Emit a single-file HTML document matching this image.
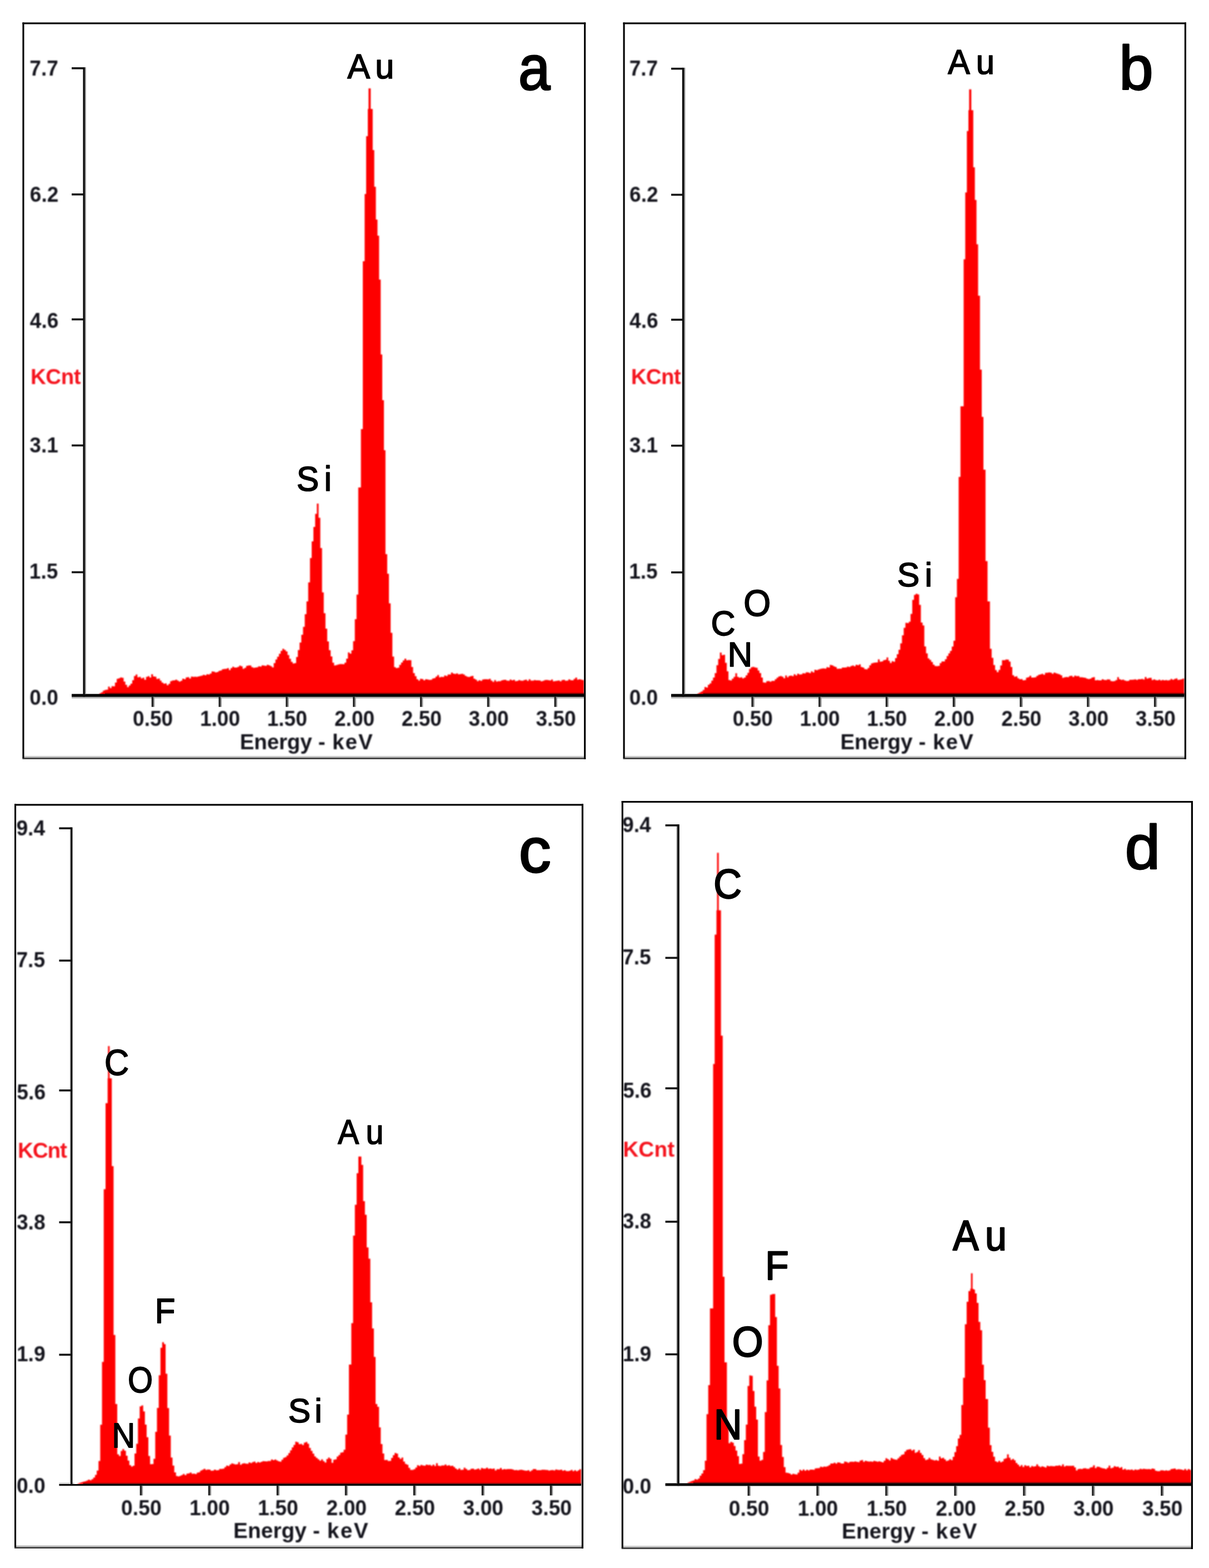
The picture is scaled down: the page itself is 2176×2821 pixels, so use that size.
<!DOCTYPE html>
<html lang="en">
<head>
<meta charset="utf-8">
<title>EDS spectra (a-d)</title>
<style>
html,body{margin:0;padding:0;background:#fff;}
body{width:2176px;height:2821px;overflow:hidden;}
svg{display:block;}
.spec{filter:blur(0.8px);}
.axes{filter:blur(0.4px);}
.lbl{filter:blur(0.9px);}
.ann{filter:blur(0.55px);}
text{font-family:"Liberation Sans",sans-serif;}
.tk{font-weight:700;fill:#14141c;}
.kc{font-weight:700;fill:#f5141e;}
.pk{fill:#000;stroke:#000;stroke-linejoin:round;}
.pl{fill:#000;font-size:120px;stroke:#000;stroke-width:3px;stroke-linejoin:round;}
</style>
</head>
<body>
<svg width="2176" height="2821" viewBox="0 0 2176 2821" role="img" aria-label="EDS spectra, panels a to d">
<defs><linearGradient id="dk" x1="0" y1="0" x2="0" y2="1"><stop offset="0" stop-color="#600" stop-opacity="0"/><stop offset="1" stop-color="#300" stop-opacity="0.95"/></linearGradient></defs>
<rect width="2176" height="2821" fill="#fff"/>
<g id="panel-a">
<g class="spec">
<polygon fill="#fe0000" points="179,1250 179,1247.3 182.1,1247.3 182.1,1245.4 185.2,1245.4 185.2,1242.5 188.3,1242.5 188.3,1241.2 191.4,1241.2 191.4,1240.8 194.5,1240.8 194.5,1235.2 197.6,1235.2 197.6,1238.1 200.7,1238.1 200.7,1234.4 203.8,1234.4 203.8,1234.7 206.9,1234.7 206.9,1228.1 210.1,1228.1 210.1,1221.2 213.2,1221.2 213.2,1220.3 216.3,1220.3 216.3,1218.8 219.4,1218.8 219.4,1219.6 222.5,1219.6 222.5,1226.3 225.6,1226.3 225.6,1232.1 228.7,1232.1 228.7,1236.2 231.8,1236.2 231.8,1233.3 234.9,1233.3 234.9,1230 238,1230 238,1223.7 241.1,1223.7 241.1,1216.3 244.2,1216.3 244.2,1213.6 247.3,1213.6 247.3,1218.6 250.4,1218.6 250.4,1217.8 253.5,1217.8 253.5,1220.6 256.6,1220.6 256.6,1219.3 259.7,1219.3 259.7,1222.9 262.8,1222.9 262.8,1217.7 265.9,1217.7 265.9,1216.5 269.1,1216.5 269.1,1218.9 272.2,1218.9 272.2,1213 275.3,1213 275.3,1217.1 278.4,1217.1 278.4,1217.4 281.5,1217.4 281.5,1221.4 284.6,1221.4 284.6,1220.8 287.7,1220.8 287.7,1224.5 290.8,1224.5 290.8,1228 293.9,1228 293.9,1230 297,1230 297,1229.4 300.1,1229.4 300.1,1232.8 303.2,1232.8 303.2,1230.2 306.3,1230.2 306.3,1225.6 309.4,1225.6 309.4,1224.2 312.5,1224.2 312.5,1224 315.6,1224 315.6,1222.7 318.7,1222.7 318.7,1224.5 321.8,1224.5 321.8,1226.2 325,1226.2 325,1224.8 328.1,1224.8 328.1,1221 331.2,1221 331.2,1222 334.3,1222 334.3,1218.7 337.4,1218.7 337.4,1218.3 340.5,1218.3 340.5,1220.8 343.6,1220.8 343.6,1217.3 346.7,1217.3 346.7,1217.7 349.8,1217.7 349.8,1217.6 352.9,1217.6 352.9,1217.7 356,1217.7 356,1217.1 359.1,1217.1 359.1,1216.2 362.2,1216.2 362.2,1215.5 365.3,1215.5 365.3,1213.9 368.4,1213.9 368.4,1215.1 371.5,1215.1 371.5,1213 374.6,1213 374.6,1213.5 377.7,1213.5 377.7,1211.8 380.8,1211.8 380.8,1208.1 384,1208.1 384,1208.5 387.1,1208.5 387.1,1209.7 390.2,1209.7 390.2,1208.9 393.3,1208.9 393.3,1206.9 396.4,1206.9 396.4,1206.2 399.5,1206.2 399.5,1204 402.6,1204 402.6,1203.5 405.7,1203.5 405.7,1203.2 408.8,1203.2 408.8,1202.1 411.9,1202.1 411.9,1205.5 415,1205.5 415,1202.1 418.1,1202.1 418.1,1199.4 421.2,1199.4 421.2,1201 424.3,1201 424.3,1201.1 427.4,1201.1 427.4,1199.8 430.5,1199.8 430.5,1197.4 433.6,1197.4 433.6,1198.8 436.7,1198.8 436.7,1203.2 439.8,1203.2 439.8,1201.5 443,1201.5 443,1198.1 446.1,1198.1 446.1,1197.3 449.2,1197.3 449.2,1197.2 452.3,1197.2 452.3,1200.3 455.4,1200.3 455.4,1201.4 458.5,1201.4 458.5,1201.1 461.6,1201.1 461.6,1200.4 464.7,1200.4 464.7,1198.8 467.8,1198.8 467.8,1199.2 470.9,1199.2 470.9,1196.9 474,1196.9 474,1197.6 477.1,1197.6 477.1,1198 480.2,1198 480.2,1196 483.3,1196 483.3,1196.9 486.4,1196.9 486.4,1198.5 489.5,1198.5 489.5,1200.8 492.6,1200.8 492.6,1193 495.7,1193 495.7,1186.6 498.8,1186.6 498.8,1181.4 502,1181.4 502,1176.2 505.1,1176.2 505.1,1171.1 508.2,1171.1 508.2,1167.2 511.3,1167.2 511.3,1169.2 514.4,1169.2 514.4,1171.9 517.5,1171.9 517.5,1178.6 520.6,1178.6 520.6,1185.3 523.7,1185.3 523.7,1190.7 526.8,1190.7 526.8,1193.8 529.9,1193.8 529.9,1192.9 533,1192.9 533,1181.9 536.1,1181.9 536.1,1169.4 539.2,1169.4 539.2,1156.1 542.3,1156.1 542.3,1142.1 545.4,1142.1 545.4,1127.7 548.5,1127.7 548.5,1105.1 551.6,1105.1 551.6,1081.9 554.7,1081.9 554.7,1047.7 557.9,1047.7 557.9,1004 561,1004 561,973.9 564.1,973.9 564.1,948.1 567.2,948.1 567.2,924.6 570.3,924.6 570.3,906.1 573.4,906.1 573.4,931.4 576.5,931.4 576.5,985.9 579.6,985.9 579.6,1065.8 582.7,1065.8 582.7,1103.3 585.8,1103.3 585.8,1131.1 588.9,1131.1 588.9,1153.9 592,1153.9 592,1169.7 595.1,1169.7 595.1,1181 598.2,1181 598.2,1192.2 601.3,1192.2 601.3,1197.3 604.4,1197.3 604.4,1196.4 607.5,1196.4 607.5,1195.6 610.6,1195.6 610.6,1194.8 613.7,1194.8 613.7,1194.8 616.9,1194.8 616.9,1195.1 620,1195.1 620,1192.3 623.1,1192.3 623.1,1185.1 626.2,1185.1 626.2,1173.7 629.3,1173.7 629.3,1176.1 632.4,1176.1 632.4,1170 635.5,1170 635.5,1153.5 638.6,1153.5 638.6,1114.1 641.7,1114.1 641.7,1069.8 644.8,1069.8 644.8,1058 644.8,877 649.6,877 649.6,772 653,772 653,470 656.3,470 656.3,349 659,349 659,245 662,245 662,196 663.3,196 663.3,159 667.2,159 667.2,196 670.8,196 670.8,270 673.6,270 673.6,336 676.5,336 676.5,395 679.4,395 679.4,424 682.3,424 682.3,503 685.2,503 685.2,637.7 688,637.7 688,720 691,720 691,810 693.8,810 693.8,997 693.8,997 696.9,997 696.9,1032.3 700,1032.3 700,1085.5 703.1,1085.5 703.1,1138.4 706.2,1138.4 706.2,1181.2 709.3,1181.2 709.3,1200.3 712.4,1200.3 712.4,1202 715.5,1202 715.5,1201.2 718.6,1201.2 718.6,1196.3 721.8,1196.3 721.8,1192.1 724.9,1192.1 724.9,1188.2 728,1188.2 728,1184.9 731.1,1184.9 731.1,1187.9 734.2,1187.9 734.2,1187.5 737.3,1187.5 737.3,1187.8 740.4,1187.8 740.4,1200 743.5,1200 743.5,1211 746.6,1211 746.6,1216.5 749.7,1216.5 749.7,1222.1 752.8,1222.1 752.8,1224.6 755.9,1224.6 755.9,1221.2 759,1221.2 759,1221.7 762.1,1221.7 762.1,1223.9 765.2,1223.9 765.2,1221.9 768.3,1221.9 768.3,1222.4 771.5,1222.4 771.5,1223.3 774.6,1223.3 774.6,1222.9 777.7,1222.9 777.7,1220.8 780.8,1220.8 780.8,1220.1 783.9,1220.1 783.9,1217.2 787,1217.2 787,1214.5 790.1,1214.5 790.1,1218.5 793.2,1218.5 793.2,1217.8 796.3,1217.8 796.3,1218.1 799.4,1218.1 799.4,1215.3 802.5,1215.3 802.5,1216.3 805.6,1216.3 805.6,1213.4 808.7,1213.4 808.7,1213.5 811.8,1213.5 811.8,1210.1 814.9,1210.1 814.9,1212.1 818,1212.1 818,1212.4 821.1,1212.4 821.1,1211.5 824.3,1211.5 824.3,1213.3 827.4,1213.3 827.4,1212.8 830.5,1212.8 830.5,1212.3 833.6,1212.3 833.6,1213.4 836.7,1213.4 836.7,1216 839.8,1216 839.8,1217.6 842.9,1217.6 842.9,1218 846,1218 846,1216.7 849.1,1216.7 849.1,1216 852.2,1216 852.2,1221 855.3,1221 855.3,1222.8 858.4,1222.8 858.4,1225.5 861.5,1225.5 861.5,1223.7 864.6,1223.7 864.6,1224.9 867.7,1224.9 867.7,1222.6 870.8,1222.6 870.8,1221.9 874,1221.9 874,1222 877.1,1222 877.1,1222.2 880.2,1222.2 880.2,1221.3 883.3,1221.3 883.3,1224.4 886.4,1224.4 886.4,1226.7 889.5,1226.7 889.5,1223.4 892.6,1223.4 892.6,1226.2 895.7,1226.2 895.7,1225.6 898.8,1225.6 898.8,1225.6 901.9,1225.6 901.9,1224 905,1224 905,1223.3 908.1,1223.3 908.1,1223.1 911.2,1223.1 911.2,1224.6 914.3,1224.6 914.3,1224.7 917.4,1224.7 917.4,1222.4 920.5,1222.4 920.5,1223.9 923.7,1223.9 923.7,1222.9 926.8,1222.9 926.8,1225.5 929.9,1225.5 929.9,1225.1 933,1225.1 933,1223.6 936.1,1223.6 936.1,1224.5 939.2,1224.5 939.2,1224.8 942.3,1224.8 942.3,1223.4 945.4,1223.4 945.4,1222.7 948.5,1222.7 948.5,1224.9 951.6,1224.9 951.6,1221.9 954.7,1221.9 954.7,1224.4 957.8,1224.4 957.8,1224.4 960.9,1224.4 960.9,1223.6 964,1223.6 964,1224.1 967.1,1224.1 967.1,1224.1 970.2,1224.1 970.2,1224.3 973.3,1224.3 973.3,1225.8 976.5,1225.8 976.5,1224.7 979.6,1224.7 979.6,1223.6 982.7,1223.6 982.7,1223.3 985.8,1223.3 985.8,1223.8 988.9,1223.8 988.9,1224.3 992,1224.3 992,1222.6 995.1,1222.6 995.1,1225.8 998.2,1225.8 998.2,1225.3 1001.3,1225.3 1001.3,1224.7 1004.4,1224.7 1004.4,1224.3 1007.5,1224.3 1007.5,1225.7 1010.6,1225.7 1010.6,1223.4 1013.7,1223.4 1013.7,1223.1 1016.8,1223.1 1016.8,1224.7 1019.9,1224.7 1019.9,1224.6 1023,1224.6 1023,1222.2 1026.2,1222.2 1026.2,1223.8 1029.3,1223.8 1029.3,1224 1032.4,1224 1032.4,1221.5 1035.5,1221.5 1035.5,1219 1038.6,1219 1038.6,1222.7 1041.7,1222.7 1041.7,1222.1 1044.8,1222.1 1044.8,1222.7 1047.9,1222.7 1047.9,1223.4 1051,1223.4 1051,1250"/>
</g>
<g class="axes">
<rect x="129" y="1253.2" width="922" height="3.4" fill="#b4b4b4"/>
<rect x="129" y="1248.5" width="922" height="5.2" fill="#000"/>
<rect x="189" y="1245.3" width="862" height="3.4" fill="url(#dk)"/>
<rect x="152.3" y="121" width="2.4" height="1127.5" fill="#8c8c8c"/>
<rect x="149.4" y="121" width="3.4" height="1132.7" fill="#0c0c0c"/>
<rect x="129" y="121" width="21.4" height="3.6" fill="#141414"/>
<rect x="129" y="348" width="21.4" height="3.6" fill="#141414"/>
<rect x="129" y="572.8" width="21.4" height="3.6" fill="#141414"/>
<rect x="129" y="799.6" width="21.4" height="3.6" fill="#141414"/>
<rect x="129" y="1027.7" width="21.4" height="3.6" fill="#141414"/>
<rect x="276" y="1253.7" width="2.2" height="18.1" fill="#9a9a9a"/>
<rect x="272.7" y="1253.7" width="3.4" height="18.1" fill="#262626"/>
<rect x="396.8" y="1253.7" width="2.2" height="18.1" fill="#9a9a9a"/>
<rect x="393.5" y="1253.7" width="3.4" height="18.1" fill="#262626"/>
<rect x="517.6" y="1253.7" width="2.2" height="18.1" fill="#9a9a9a"/>
<rect x="514.3" y="1253.7" width="3.4" height="18.1" fill="#262626"/>
<rect x="638.4" y="1253.7" width="2.2" height="18.1" fill="#9a9a9a"/>
<rect x="635.1" y="1253.7" width="3.4" height="18.1" fill="#262626"/>
<rect x="759.2" y="1253.7" width="2.2" height="18.1" fill="#9a9a9a"/>
<rect x="755.9" y="1253.7" width="3.4" height="18.1" fill="#262626"/>
<rect x="880" y="1253.7" width="2.2" height="18.1" fill="#9a9a9a"/>
<rect x="876.7" y="1253.7" width="3.4" height="18.1" fill="#262626"/>
<rect x="1000.8" y="1253.7" width="2.2" height="18.1" fill="#9a9a9a"/>
<rect x="997.5" y="1253.7" width="3.4" height="18.1" fill="#262626"/>
</g>
<g class="lbl">
<text class="tk" font-size="38.6" x="53.33" y="135.8" textLength="51.51" lengthAdjust="spacingAndGlyphs">7.7</text>
<text class="tk" font-size="38.6" x="53.81" y="363.1" textLength="51.51" lengthAdjust="spacingAndGlyphs">6.2</text>
<text class="tk" font-size="38.6" x="53.81" y="590" textLength="51.51" lengthAdjust="spacingAndGlyphs">4.6</text>
<text class="tk" font-size="38.6" x="53.33" y="813.7" textLength="51.51" lengthAdjust="spacingAndGlyphs">3.1</text>
<text class="tk" font-size="38.6" x="52.85" y="1040.8" textLength="51.51" lengthAdjust="spacingAndGlyphs">1.5</text>
<text class="tk" font-size="38.6" x="53.33" y="1268.1" textLength="51.51" lengthAdjust="spacingAndGlyphs">0.0</text>
<text class="tk" font-size="38.6" x="239.12" y="1306.3" textLength="72.12" lengthAdjust="spacingAndGlyphs">0.50</text>
<text class="tk" font-size="38.6" x="359.92" y="1306.3" textLength="72.12" lengthAdjust="spacingAndGlyphs">1.00</text>
<text class="tk" font-size="38.6" x="480.72" y="1306.3" textLength="72.12" lengthAdjust="spacingAndGlyphs">1.50</text>
<text class="tk" font-size="38.6" x="602" y="1306.3" textLength="72.12" lengthAdjust="spacingAndGlyphs">2.00</text>
<text class="tk" font-size="38.6" x="722.8" y="1306.3" textLength="72.12" lengthAdjust="spacingAndGlyphs">2.50</text>
<text class="tk" font-size="38.6" x="843.6" y="1306.3" textLength="72.12" lengthAdjust="spacingAndGlyphs">3.00</text>
<text class="tk" font-size="38.6" x="964.4" y="1306.3" textLength="72.12" lengthAdjust="spacingAndGlyphs">3.50</text>
<text class="tk" font-size="38.6" y="1347.5"><tspan x="431.8" letter-spacing="-0.2">Energy</tspan><tspan x="561.98"> - </tspan><tspan x="598" letter-spacing="2">keV</tspan></text>
<text class="kc" font-size="38.6" x="55" y="690.5" letter-spacing="-0.5">KCnt</text>
</g>
<g class="ann">
<text class="pk" font-size="65" stroke-width="1.8" transform="matrix(0.9422 0 0 0.9617 625.24 141.44)" letter-spacing="9.82">Au</text>
<text class="pk" font-size="65" stroke-width="1.8" transform="matrix(0.9300 0 0 0.9653 533.64 883.23)" letter-spacing="10.15">Si</text>
<text class="pl" transform="matrix(0.8594 0 0 0.9382 932.96 161.32)" x="0" y="0">a</text>
</g>
<rect x="43.4" y="1360" width="1007.8" height="3" fill="#c8c8c8"/>
<rect x="40.4" y="1363" width="1013.8" height="3" fill="#484848"/>
<rect x="40.4" y="40.4" width="1013.8" height="3.1" fill="#000"/>
<rect x="40.4" y="40.4" width="3.1" height="1323.6" fill="#000"/>
<rect x="1051" y="40.4" width="3.2" height="1325.6" fill="#000"/>
</g>
<g id="panel-b">
<g class="spec">
<polygon fill="#fe0000" points="1255.5,1250 1255.5,1247.6 1258.6,1247.6 1258.6,1245.8 1261.7,1245.8 1261.7,1244 1264.8,1244 1264.8,1241.3 1267.9,1241.3 1267.9,1236.1 1271,1236.1 1271,1237.1 1274,1237.1 1274,1232 1277.1,1232 1277.1,1229.6 1280.2,1229.6 1280.2,1224.4 1283.3,1224.4 1283.3,1219.1 1286.4,1219.1 1286.4,1210.9 1289.5,1210.9 1289.5,1196.7 1292.6,1196.7 1292.6,1185.5 1295.7,1185.5 1295.7,1174.1 1298.8,1174.1 1298.8,1178.8 1301.9,1178.8 1301.9,1178 1305,1178 1305,1192.4 1308.1,1192.4 1308.1,1207.7 1311.1,1207.7 1311.1,1223.4 1314.2,1223.4 1314.2,1224.2 1317.3,1224.2 1317.3,1221 1320.4,1221 1320.4,1217.8 1323.5,1217.8 1323.5,1211.3 1326.6,1211.3 1326.6,1217.8 1329.7,1217.8 1329.7,1219.2 1332.8,1219.2 1332.8,1218.5 1335.9,1218.5 1335.9,1220.4 1339,1220.4 1339,1219.1 1342.1,1219.1 1342.1,1214.9 1345.2,1214.9 1345.2,1210.6 1348.2,1210.6 1348.2,1203.6 1351.3,1203.6 1351.3,1200.6 1354.4,1200.6 1354.4,1199.7 1357.5,1199.7 1357.5,1200.8 1360.6,1200.8 1360.6,1201.6 1363.7,1201.6 1363.7,1206.3 1366.8,1206.3 1366.8,1210.9 1369.9,1210.9 1369.9,1218.9 1373,1218.9 1373,1227.7 1376.1,1227.7 1376.1,1228.3 1379.2,1228.3 1379.2,1225.5 1382.2,1225.5 1382.2,1225.2 1385.3,1225.2 1385.3,1226.6 1388.4,1226.6 1388.4,1224.9 1391.5,1224.9 1391.5,1225 1394.6,1225 1394.6,1222 1397.7,1222 1397.7,1219.2 1400.8,1219.2 1400.8,1217 1403.9,1217 1403.9,1216.3 1407,1216.3 1407,1217.6 1410.1,1217.6 1410.1,1220.3 1413.2,1220.3 1413.2,1215.3 1416.3,1215.3 1416.3,1218.5 1419.3,1218.5 1419.3,1216 1422.4,1216 1422.4,1215.5 1425.5,1215.5 1425.5,1216.5 1428.6,1216.5 1428.6,1213 1431.7,1213 1431.7,1215.3 1434.8,1215.3 1434.8,1212.1 1437.9,1212.1 1437.9,1213.5 1441,1213.5 1441,1213.2 1444.1,1213.2 1444.1,1211.2 1447.2,1211.2 1447.2,1211.4 1450.3,1211.4 1450.3,1209.5 1453.4,1209.5 1453.4,1209.8 1456.4,1209.8 1456.4,1211 1459.5,1211 1459.5,1207.7 1462.6,1207.7 1462.6,1209.7 1465.7,1209.7 1465.7,1205.1 1468.8,1205.1 1468.8,1205.7 1471.9,1205.7 1471.9,1204.5 1475,1204.5 1475,1203.6 1478.1,1203.6 1478.1,1202.8 1481.2,1202.8 1481.2,1202.4 1484.3,1202.4 1484.3,1203 1487.4,1203 1487.4,1200.3 1490.5,1200.3 1490.5,1200.9 1493.5,1200.9 1493.5,1196.3 1496.6,1196.3 1496.6,1197 1499.7,1197 1499.7,1198.8 1502.8,1198.8 1502.8,1200.1 1505.9,1200.1 1505.9,1203.3 1509,1203.3 1509,1203 1512.1,1203 1512.1,1203 1515.2,1203 1515.2,1200.9 1518.3,1200.9 1518.3,1201.1 1521.4,1201.1 1521.4,1200.7 1524.5,1200.7 1524.5,1199.2 1527.5,1199.2 1527.5,1200 1530.6,1200 1530.6,1198.2 1533.7,1198.2 1533.7,1197.3 1536.8,1197.3 1536.8,1198.7 1539.9,1198.7 1539.9,1196 1543,1196 1543,1196.8 1546.1,1196.8 1546.1,1195.3 1549.2,1195.3 1549.2,1199.9 1552.3,1199.9 1552.3,1200.9 1555.4,1200.9 1555.4,1203.8 1558.5,1203.8 1558.5,1204.2 1561.6,1204.2 1561.6,1201.8 1564.6,1201.8 1564.6,1197.1 1567.7,1197.1 1567.7,1193.4 1570.8,1193.4 1570.8,1192.6 1573.9,1192.6 1573.9,1192 1577,1192 1577,1191.8 1580.1,1191.8 1580.1,1186.3 1583.2,1186.3 1583.2,1190.5 1586.3,1190.5 1586.3,1190 1589.4,1190 1589.4,1187.8 1592.5,1187.8 1592.5,1186.9 1595.6,1186.9 1595.6,1182.8 1598.7,1182.8 1598.7,1188.8 1601.7,1188.8 1601.7,1192.7 1604.8,1192.7 1604.8,1189.6 1607.9,1189.6 1607.9,1190.5 1611,1190.5 1611,1184.1 1614.1,1184.1 1614.1,1176.9 1617.2,1176.9 1617.2,1169.1 1620.3,1169.1 1620.3,1157.4 1623.4,1157.4 1623.4,1143 1626.5,1143 1626.5,1129.4 1629.6,1129.4 1629.6,1120.6 1632.7,1120.6 1632.7,1120.9 1635.7,1120.9 1635.7,1118.4 1638.8,1118.4 1638.8,1104.4 1641.9,1104.4 1641.9,1079.3 1645,1079.3 1645,1070.3 1648.1,1070.3 1648.1,1068.3 1651.2,1068.3 1651.2,1069.4 1654.3,1069.4 1654.3,1088.3 1657.4,1088.3 1657.4,1120 1660.5,1120 1660.5,1125.3 1663.6,1125.3 1663.6,1163 1666.7,1163 1666.7,1175.6 1669.8,1175.6 1669.8,1184.6 1672.8,1184.6 1672.8,1187.2 1675.9,1187.2 1675.9,1191 1679,1191 1679,1195.8 1682.1,1195.8 1682.1,1198.3 1685.2,1198.3 1685.2,1198.4 1688.3,1198.4 1688.3,1198 1691.4,1198 1691.4,1192.9 1694.5,1192.9 1694.5,1189.9 1697.6,1189.9 1697.6,1189.9 1700.7,1189.9 1700.7,1186 1703.8,1186 1703.8,1180.2 1706.9,1180.2 1706.9,1175.6 1709.9,1175.6 1709.9,1171 1713,1171 1713,1163.3 1716.1,1163.3 1716.1,1152.7 1719.2,1152.7 1719.2,1074.5 1722.3,1074.5 1722.3,1041.6 1725.4,1041.6 1725.4,1041.6 1725.4,858 1728.7,858 1728.7,731 1734.4,731 1734.4,466.5 1737.3,466.5 1737.3,346.3 1740.2,346.3 1740.2,235.8 1743,235.8 1743,198.3 1744.3,198.3 1744.3,160.8 1748.2,160.8 1748.2,198.3 1751.7,198.3 1751.7,301 1754.6,301 1754.6,359.8 1757.5,359.8 1757.5,439.6 1760.4,439.6 1760.4,532 1763.8,532 1763.8,665 1767,665 1767,750 1770,750 1770,845 1773.8,845 1773.8,1009.6 1777.4,1009.6 1777.4,1082 1781.7,1082 1781.7,1159 1781.7,1167.2 1784.8,1167.2 1784.8,1183.5 1787.9,1183.5 1787.9,1196.6 1791,1196.6 1791,1205.5 1794.1,1205.5 1794.1,1209.2 1797.2,1209.2 1797.2,1205.3 1800.3,1205.3 1800.3,1197.2 1803.4,1197.2 1803.4,1187.7 1806.5,1187.7 1806.5,1187.8 1809.6,1187.8 1809.6,1186.4 1812.7,1186.4 1812.7,1186.8 1815.8,1186.8 1815.8,1190.3 1818.9,1190.3 1818.9,1200.1 1822,1200.1 1822,1214.8 1825.1,1214.8 1825.1,1217.6 1828.1,1217.6 1828.1,1216.7 1831.2,1216.7 1831.2,1220.2 1834.3,1220.2 1834.3,1222 1837.4,1222 1837.4,1221.8 1840.5,1221.8 1840.5,1224.1 1843.6,1224.1 1843.6,1223.4 1846.7,1223.4 1846.7,1219.2 1849.8,1219.2 1849.8,1218.2 1852.9,1218.2 1852.9,1215.7 1856,1215.7 1856,1218.9 1859.1,1218.9 1859.1,1218.9 1862.2,1218.9 1862.2,1218.6 1865.3,1218.6 1865.3,1216 1868.4,1216 1868.4,1214 1871.5,1214 1871.5,1213.3 1874.6,1213.3 1874.6,1212.2 1877.7,1212.2 1877.7,1214.1 1880.8,1214.1 1880.8,1210.6 1883.9,1210.6 1883.9,1210.2 1887,1210.2 1887,1209.7 1890.1,1209.7 1890.1,1210.3 1893.2,1210.3 1893.2,1212.2 1896.3,1212.2 1896.3,1209.9 1899.4,1209.9 1899.4,1211.2 1902.5,1211.2 1902.5,1212.2 1905.6,1212.2 1905.6,1213.2 1908.7,1213.2 1908.7,1214.9 1911.8,1214.9 1911.8,1219.6 1914.8,1219.6 1914.8,1218.4 1917.9,1218.4 1917.9,1217.9 1921,1217.9 1921,1218.3 1924.1,1218.3 1924.1,1216.3 1927.2,1216.3 1927.2,1215.8 1930.3,1215.8 1930.3,1218.1 1933.4,1218.1 1933.4,1215.6 1936.5,1215.6 1936.5,1216.6 1939.6,1216.6 1939.6,1216.3 1942.7,1216.3 1942.7,1218.6 1945.8,1218.6 1945.8,1218.5 1948.9,1218.5 1948.9,1219 1952,1219 1952,1219.4 1955.1,1219.4 1955.1,1221.1 1958.2,1221.1 1958.2,1221.8 1961.3,1221.8 1961.3,1221 1964.4,1221 1964.4,1218.9 1967.5,1218.9 1967.5,1218.3 1970.6,1218.3 1970.6,1224.1 1973.7,1224.1 1973.7,1223.5 1976.8,1223.5 1976.8,1223.9 1979.9,1223.9 1979.9,1224.1 1983,1224.1 1983,1222 1986.1,1222 1986.1,1223.2 1989.2,1223.2 1989.2,1223.6 1992.3,1223.6 1992.3,1222.2 1995.4,1222.2 1995.4,1222.5 1998.5,1222.5 1998.5,1225.3 2001.5,1225.3 2001.5,1225.7 2004.6,1225.7 2004.6,1225.2 2007.7,1225.2 2007.7,1223.6 2010.8,1223.6 2010.8,1218.3 2013.9,1218.3 2013.9,1222.1 2017,1222.1 2017,1223.2 2020.1,1223.2 2020.1,1222.7 2023.2,1222.7 2023.2,1224.2 2026.3,1224.2 2026.3,1225.2 2029.4,1225.2 2029.4,1225 2032.5,1225 2032.5,1223 2035.6,1223 2035.6,1223 2038.7,1223 2038.7,1222.7 2041.8,1222.7 2041.8,1222.2 2044.9,1222.2 2044.9,1223.3 2048,1223.3 2048,1222.1 2051.1,1222.1 2051.1,1222 2054.2,1222 2054.2,1221.4 2057.3,1221.4 2057.3,1222.6 2060.4,1222.6 2060.4,1217.9 2063.5,1217.9 2063.5,1221.1 2066.6,1221.1 2066.6,1219.7 2069.7,1219.7 2069.7,1219.4 2072.8,1219.4 2072.8,1223.6 2075.9,1223.6 2075.9,1222.2 2079,1222.2 2079,1223.4 2082.1,1223.4 2082.1,1223.9 2085.2,1223.9 2085.2,1222.8 2088.2,1222.8 2088.2,1224.3 2091.3,1224.3 2091.3,1223.3 2094.4,1223.3 2094.4,1224 2097.5,1224 2097.5,1223.4 2100.6,1223.4 2100.6,1224.3 2103.7,1224.3 2103.7,1223.5 2106.8,1223.5 2106.8,1221.6 2109.9,1221.6 2109.9,1223 2113,1223 2113,1221.4 2116.1,1221.4 2116.1,1220.5 2119.2,1220.5 2119.2,1223.2 2122.3,1223.2 2122.3,1222.7 2125.4,1222.7 2125.4,1222.1 2128.5,1222.1 2128.5,1220.8 2131.6,1220.8 2131.6,1250"/>
</g>
<g class="axes">
<rect x="1208" y="1253.2" width="923.6" height="3.4" fill="#b4b4b4"/>
<rect x="1208" y="1248.5" width="923.6" height="5.2" fill="#000"/>
<rect x="1265.5" y="1245.3" width="866.1" height="3.4" fill="url(#dk)"/>
<rect x="1230.7" y="121.8" width="2.6" height="1126.7" fill="#8c8c8c"/>
<rect x="1227.8" y="121.8" width="3.4" height="1131.9" fill="#0c0c0c"/>
<rect x="1208" y="121.8" width="20.8" height="3.6" fill="#141414"/>
<rect x="1208" y="348.6" width="20.8" height="3.6" fill="#141414"/>
<rect x="1208" y="573.4" width="20.8" height="3.6" fill="#141414"/>
<rect x="1208" y="800" width="20.8" height="3.6" fill="#141414"/>
<rect x="1208" y="1028" width="20.8" height="3.6" fill="#141414"/>
<rect x="1355.8" y="1253.7" width="2.2" height="18.1" fill="#9a9a9a"/>
<rect x="1352.4" y="1253.7" width="3.4" height="18.1" fill="#262626"/>
<rect x="1476.5" y="1253.7" width="2.2" height="18.1" fill="#9a9a9a"/>
<rect x="1473.2" y="1253.7" width="3.4" height="18.1" fill="#262626"/>
<rect x="1597.2" y="1253.7" width="2.2" height="18.1" fill="#9a9a9a"/>
<rect x="1593.9" y="1253.7" width="3.4" height="18.1" fill="#262626"/>
<rect x="1718" y="1253.7" width="2.2" height="18.1" fill="#9a9a9a"/>
<rect x="1714.7" y="1253.7" width="3.4" height="18.1" fill="#262626"/>
<rect x="1838.8" y="1253.7" width="2.2" height="18.1" fill="#9a9a9a"/>
<rect x="1835.4" y="1253.7" width="3.4" height="18.1" fill="#262626"/>
<rect x="1959.5" y="1253.7" width="2.2" height="18.1" fill="#9a9a9a"/>
<rect x="1956.2" y="1253.7" width="3.4" height="18.1" fill="#262626"/>
<rect x="2080.2" y="1253.7" width="2.2" height="18.1" fill="#9a9a9a"/>
<rect x="2076.9" y="1253.7" width="3.4" height="18.1" fill="#262626"/>
</g>
<g class="lbl">
<text class="tk" font-size="38.6" x="1132.63" y="135.8" textLength="51.51" lengthAdjust="spacingAndGlyphs">7.7</text>
<text class="tk" font-size="38.6" x="1133.11" y="363.1" textLength="51.51" lengthAdjust="spacingAndGlyphs">6.2</text>
<text class="tk" font-size="38.6" x="1133.11" y="590" textLength="51.51" lengthAdjust="spacingAndGlyphs">4.6</text>
<text class="tk" font-size="38.6" x="1132.63" y="813.7" textLength="51.51" lengthAdjust="spacingAndGlyphs">3.1</text>
<text class="tk" font-size="38.6" x="1132.15" y="1040.8" textLength="51.51" lengthAdjust="spacingAndGlyphs">1.5</text>
<text class="tk" font-size="38.6" x="1132.63" y="1268.1" textLength="51.51" lengthAdjust="spacingAndGlyphs">0.0</text>
<text class="tk" font-size="38.6" x="1318.87" y="1306.3" textLength="72.12" lengthAdjust="spacingAndGlyphs">0.50</text>
<text class="tk" font-size="38.6" x="1439.62" y="1306.3" textLength="72.12" lengthAdjust="spacingAndGlyphs">1.00</text>
<text class="tk" font-size="38.6" x="1560.37" y="1306.3" textLength="72.12" lengthAdjust="spacingAndGlyphs">1.50</text>
<text class="tk" font-size="38.6" x="1681.6" y="1306.3" textLength="72.12" lengthAdjust="spacingAndGlyphs">2.00</text>
<text class="tk" font-size="38.6" x="1802.35" y="1306.3" textLength="72.12" lengthAdjust="spacingAndGlyphs">2.50</text>
<text class="tk" font-size="38.6" x="1923.1" y="1306.3" textLength="72.12" lengthAdjust="spacingAndGlyphs">3.00</text>
<text class="tk" font-size="38.6" x="2043.85" y="1306.3" textLength="72.12" lengthAdjust="spacingAndGlyphs">3.50</text>
<text class="tk" font-size="38.6" y="1347.5"><tspan x="1512.4" letter-spacing="-0.16">Energy</tspan><tspan x="1642.81"> - </tspan><tspan x="1678.88" letter-spacing="2.06">keV</tspan></text>
<text class="kc" font-size="38.6" x="1135.7" y="690.5" letter-spacing="-0.73">KCnt</text>
</g>
<g class="ann">
<text class="pk" font-size="65" stroke-width="1.8" transform="matrix(0.9178 0 0 0.9596 1706.02 132.74)" letter-spacing="12.02">Au</text>
<text class="pk" font-size="65" stroke-width="1.8" transform="matrix(0.9300 0 0 0.9327 1614.74 1055.27)" letter-spacing="10.26">Si</text>
<text class="pk" font-size="65" stroke-width="1.8" transform="matrix(0.9372 0 0 0.9723 1279.43 1143.43)">C</text>
<text class="pk" font-size="65" stroke-width="1.8" transform="matrix(0.9696 0 0 1.0213 1338.36 1107.88)">O</text>
<text class="pk" font-size="65" stroke-width="1.8" transform="matrix(0.9538 0 0 0.9596 1309.48 1199.24)">N</text>
<text class="pl" transform="matrix(0.9193 0 0 0.9286 2014.28 160.51)" x="0" y="0">b</text>
</g>
<rect x="1124.5" y="1360" width="1007.5" height="3" fill="#c8c8c8"/>
<rect x="1121.5" y="1363" width="1013.5" height="3" fill="#484848"/>
<rect x="1121.5" y="40.4" width="1013.5" height="3.1" fill="#000"/>
<rect x="1121.5" y="40.4" width="3.1" height="1323.6" fill="#000"/>
<rect x="2131.8" y="40.4" width="3.2" height="1325.6" fill="#000"/>
</g>
<g id="panel-c">
<g class="spec">
<polygon fill="#fe0000" points="139.5,2670.5 139.5,2668.9 142.6,2668.9 142.6,2667.8 145.8,2667.8 145.8,2666.7 148.9,2666.7 148.9,2665.8 152.1,2665.8 152.1,2664.9 155.2,2664.9 155.2,2663.7 158.4,2663.7 158.4,2662.1 161.5,2662.1 161.5,2663.3 164.7,2663.3 164.7,2661.2 167.8,2661.2 167.8,2658.2 171,2658.2 171,2653.4 174.1,2653.4 174.1,2645.8 177.3,2645.8 177.3,2628.4 180.4,2628.4 180.4,2563.2 183.6,2563.2 183.6,2450.2 186.7,2450.2 186.7,2449 186.7,2139.6 190,2139.6 190,1984.7 193.7,1984.7 193.7,1940 194.4,1940 194.4,1882 197.3,1882 197.3,1940 201.2,1940 201.2,2098 204.4,2098 204.4,2401.8 207.6,2401.8 207.6,2526 211,2526 211,2613 211,2616.4 214.1,2616.4 214.1,2619.6 217.2,2619.6 217.2,2610.4 220.3,2610.4 220.3,2607.1 223.4,2607.1 223.4,2609.9 226.6,2609.9 226.6,2619.1 229.7,2619.1 229.7,2627.7 232.8,2627.7 232.8,2636 235.9,2636 235.9,2638.5 239,2638.5 239,2636.9 242.1,2636.9 242.1,2615.1 245.2,2615.1 245.2,2597.6 248.3,2597.6 248.3,2552.1 251.4,2552.1 251.4,2530.2 254.5,2530.2 254.5,2528.5 257.7,2528.5 257.7,2539.2 260.8,2539.2 260.8,2563.1 263.9,2563.1 263.9,2585.7 267,2585.7 267,2619.6 270.1,2619.6 270.1,2634.2 273.2,2634.2 273.2,2633.9 276.3,2633.9 276.3,2624.4 279.4,2624.4 279.4,2576.1 282.5,2576.1 282.5,2533.1 285.7,2533.1 285.7,2474.2 288.8,2474.2 288.8,2424.7 291.9,2424.7 291.9,2414.7 295,2414.7 295,2418.2 298.1,2418.2 298.1,2471.6 301.2,2471.6 301.2,2533.2 304.3,2533.2 304.3,2582.7 307.4,2582.7 307.4,2622.2 310.5,2622.2 310.5,2636.7 313.7,2636.7 313.6,2648.9 316.8,2648.9 316.8,2655.5 319.9,2655.5 319.9,2656.2 323,2656.2 323,2655.3 326.1,2655.3 326.1,2653.7 329.2,2653.7 329.2,2651.8 332.3,2651.8 332.3,2654.1 335.4,2654.1 335.4,2651.2 338.5,2651.2 338.5,2650.7 341.6,2650.7 341.6,2649.2 344.8,2649.2 344.8,2651.4 347.9,2651.4 347.9,2651.2 351,2651.2 351,2652.1 354.1,2652.1 354.1,2649.4 357.2,2649.4 357.2,2648.7 360.3,2648.7 360.3,2645.8 363.4,2645.8 363.4,2644.3 366.5,2644.3 366.5,2642.6 369.6,2642.6 369.6,2644.6 372.8,2644.6 372.8,2643.7 375.9,2643.7 375.9,2644 379,2644 379,2645.9 382.1,2645.9 382.1,2645.8 385.2,2645.8 385.2,2644 388.3,2644 388.3,2645.3 391.4,2645.3 391.4,2644.9 394.5,2644.9 394.5,2642.8 397.6,2642.8 397.6,2642.7 400.7,2642.7 400.7,2642.2 403.9,2642.2 403.9,2639.4 407,2639.4 407,2636.8 410.1,2636.8 410.1,2637.4 413.2,2637.4 413.2,2634.8 416.3,2634.8 416.3,2632.7 419.4,2632.7 419.4,2633.8 422.5,2633.8 422.5,2634.7 425.6,2634.7 425.6,2634.3 428.7,2634.3 428.7,2630.6 431.9,2630.6 431.9,2635.3 435,2635.3 435,2633.2 438.1,2633.2 438.1,2632.5 441.2,2632.5 441.2,2633.2 444.3,2633.2 444.3,2633.6 447.4,2633.6 447.4,2631 450.5,2631 450.5,2632.2 453.6,2632.2 453.6,2630.5 456.7,2630.5 456.7,2629.4 459.8,2629.4 459.8,2632 463,2632 463,2630.2 466.1,2630.2 466.1,2631.3 469.2,2631.3 469.2,2629.9 472.3,2629.9 472.3,2628.8 475.4,2628.8 475.4,2629.1 478.5,2629.1 478.5,2629.2 481.6,2629.2 481.6,2628.4 484.7,2628.4 484.7,2628.5 487.8,2628.5 487.8,2625.8 491,2625.8 491,2626.9 494.1,2626.9 494.1,2625.8 497.2,2625.8 497.2,2627.5 500.3,2627.5 500.3,2629.1 503.4,2629.1 503.4,2629.7 506.5,2629.7 506.5,2626.2 509.6,2626.2 509.6,2622.7 512.7,2622.7 512.7,2621.5 515.8,2621.5 515.8,2618.4 519,2618.4 519,2614.2 522.1,2614.2 522.1,2609.3 525.2,2609.3 525.2,2604.1 528.3,2604.1 528.3,2599.5 531.4,2599.5 531.4,2593.8 534.5,2593.8 534.5,2594.7 537.6,2594.7 537.6,2598.3 540.7,2598.3 540.7,2597.8 543.8,2597.8 543.8,2599.8 546.9,2599.8 546.9,2595.5 550.1,2595.5 550.1,2594.2 553.2,2594.2 553.2,2597.6 556.3,2597.6 556.3,2605 559.4,2605 559.4,2610.2 562.5,2610.2 562.5,2615.3 565.6,2615.3 565.6,2620.2 568.7,2620.2 568.7,2623 571.8,2623 571.8,2625.5 574.9,2625.5 574.9,2628 578.1,2628 578.1,2625.6 581.2,2625.6 581.2,2628.8 584.3,2628.8 584.3,2631.2 587.4,2631.2 587.4,2624.9 590.5,2624.9 590.5,2622.3 593.6,2622.3 593.6,2624.6 596.7,2624.6 596.7,2631.7 599.8,2631.7 599.8,2626.3 602.9,2626.3 602.9,2625.6 606,2625.6 606,2620.5 609.2,2620.5 609.2,2617.7 612.3,2617.7 612.3,2613.4 615.4,2613.4 615.4,2612.8 618.5,2612.8 618.5,2608.3 621.6,2608.3 621.6,2607 621.6,2581 624.8,2581 624.8,2545 628,2545 628,2455 632.3,2455 632.3,2380.4 635.5,2380.4 635.5,2223 638.7,2223 638.7,2167.4 641.9,2167.4 641.9,2110.7 645,2110.7 645,2080.8 650.4,2080.8 650.4,2095.8 653.6,2095.8 653.6,2161 656.8,2161 656.8,2185.5 660,2185.5 660,2244.3 663.3,2244.3 663.3,2264.6 666.5,2264.6 666.5,2343 669.7,2343 669.7,2390 672.9,2390 672.9,2441.3 676,2441.3 676,2525.7 676,2525.9 679.1,2525.9 679.1,2531 682.2,2531 682.2,2568 685.3,2568 685.3,2598 688.4,2598 688.4,2615.1 691.5,2615.1 691.5,2626.8 694.7,2626.8 694.7,2626.4 697.8,2626.4 697.8,2628.5 700.9,2628.5 700.9,2628.3 704,2628.3 704,2622.9 707.1,2622.9 707.1,2618 710.2,2618 710.2,2613.9 713.3,2613.9 713.3,2615.3 716.4,2615.3 716.4,2621.9 719.5,2621.9 719.5,2624.8 722.6,2624.8 722.6,2622.2 725.7,2622.2 725.7,2629.5 728.9,2629.5 728.9,2633.7 732,2633.7 732,2635.3 735.1,2635.3 735.1,2640.7 738.2,2640.7 738.2,2644.6 741.3,2644.6 741.3,2644.6 744.4,2644.6 744.4,2643.2 747.5,2643.2 747.5,2640.2 750.6,2640.2 750.6,2636.1 753.7,2636.1 753.7,2637.4 756.8,2637.4 756.8,2635.6 759.9,2635.6 759.9,2636.4 763.1,2636.4 763.1,2637 766.2,2637 766.2,2635 769.3,2635 769.3,2635.8 772.4,2635.8 772.4,2635.4 775.5,2635.4 775.5,2637.2 778.6,2637.2 778.6,2634.9 781.7,2634.9 781.7,2637.5 784.8,2637.5 784.8,2632.4 787.9,2632.4 787.9,2637 791,2637 791,2637.6 794.2,2637.6 794.2,2636.6 797.3,2636.6 797.3,2636.4 800.4,2636.4 800.4,2634.8 803.5,2634.8 803.5,2637.1 806.6,2637.1 806.6,2636.1 809.7,2636.1 809.7,2637.6 812.8,2637.6 812.8,2636.9 815.9,2636.9 815.9,2639.2 819,2639.2 819,2642.1 822.1,2642.1 822.1,2644.1 825.2,2644.1 825.2,2641.7 828.4,2641.7 828.4,2644.5 831.5,2644.5 831.5,2644.2 834.6,2644.2 834.6,2640.4 837.7,2640.4 837.7,2642.8 840.8,2642.8 840.8,2645 843.9,2645 843.9,2644.6 847,2644.6 847,2642.4 850.1,2642.4 850.1,2642.2 853.2,2642.2 853.2,2644.1 856.3,2644.1 856.3,2643.3 859.4,2643.3 859.4,2641.9 862.6,2641.9 862.6,2644.3 865.7,2644.3 865.7,2641.1 868.8,2641.1 868.8,2642.3 871.9,2642.3 871.9,2642.3 875,2642.3 875,2640.6 878.1,2640.6 878.1,2642.4 881.2,2642.4 881.2,2641.9 884.3,2641.9 884.3,2642.8 887.4,2642.8 887.4,2642 890.5,2642 890.5,2645.4 893.6,2645.4 893.6,2643.3 896.8,2643.3 896.8,2643.2 899.9,2643.2 899.9,2641 903,2641 903,2644 906.1,2644 906.1,2642.9 909.2,2642.9 909.2,2643.5 912.3,2643.5 912.3,2642.9 915.4,2642.9 915.4,2643.1 918.5,2643.1 918.5,2643 921.6,2643 921.6,2643.8 924.7,2643.8 924.7,2645 927.8,2645 927.8,2644.8 931,2644.8 931,2645.2 934.1,2645.2 934.1,2644.5 937.2,2644.5 937.2,2644.3 940.3,2644.3 940.3,2645.1 943.4,2645.1 943.4,2645.7 946.5,2645.7 946.5,2646 949.6,2646 949.6,2645 952.7,2645 952.7,2647.2 955.8,2647.2 955.8,2645.2 958.9,2645.2 958.9,2642.9 962.1,2642.9 962.1,2642.9 965.2,2642.9 965.2,2645.1 968.3,2645.1 968.3,2645 971.4,2645 971.4,2645 974.5,2645 974.5,2644.3 977.6,2644.3 977.6,2644.3 980.7,2644.3 980.7,2644.6 983.8,2644.6 983.8,2644.8 986.9,2644.8 986.9,2645.7 990,2645.7 990,2644.9 993.1,2644.9 993.1,2644.7 996.3,2644.7 996.3,2645.4 999.4,2645.4 999.4,2643.7 1002.5,2643.7 1002.5,2644.4 1005.6,2644.4 1005.6,2644.7 1008.7,2644.7 1008.7,2644 1011.8,2644 1011.8,2646 1014.9,2646 1014.9,2644.9 1018,2644.9 1018,2646.6 1021.1,2646.6 1021.1,2646.7 1024.2,2646.7 1024.2,2646 1027.3,2646 1027.3,2644.5 1030.5,2644.5 1030.5,2646.8 1033.6,2646.8 1033.6,2645 1036.7,2645 1036.7,2647.1 1039.8,2647.1 1039.8,2645.2 1042.9,2645.2 1042.9,2643.2 1046,2643.2 1046,2670.5"/>
</g>
<g class="axes">
<rect x="106.4" y="2672.4" width="939.6" height="1.9" fill="#dcdcdc"/>
<rect x="106.4" y="2667.4" width="27.1" height="2.8" fill="#cfcfcf"/>
<rect x="106.4" y="2670" width="939.6" height="2.9" fill="#000"/>
<rect x="149.5" y="2666.8" width="896.5" height="3.4" fill="url(#dk)"/>
<rect x="125.2" y="1488.4" width="2.3" height="1181.6" fill="#d4d4d4"/>
<rect x="127" y="1488.4" width="3.5" height="1184.5" fill="#0c0c0c"/>
<rect x="106.4" y="1488.4" width="21.6" height="3.6" fill="#141414"/>
<rect x="106.4" y="1726.4" width="21.6" height="3.6" fill="#141414"/>
<rect x="106.4" y="1960" width="21.6" height="3.6" fill="#141414"/>
<rect x="106.4" y="2197.2" width="21.6" height="3.6" fill="#141414"/>
<rect x="106.4" y="2435.5" width="21.6" height="3.6" fill="#141414"/>
<rect x="255" y="2672.9" width="2.2" height="17.5" fill="#9a9a9a"/>
<rect x="251.7" y="2672.9" width="3.4" height="17.5" fill="#262626"/>
<rect x="378" y="2672.9" width="2.2" height="17.5" fill="#9a9a9a"/>
<rect x="374.7" y="2672.9" width="3.4" height="17.5" fill="#262626"/>
<rect x="501" y="2672.9" width="2.2" height="17.5" fill="#9a9a9a"/>
<rect x="497.7" y="2672.9" width="3.4" height="17.5" fill="#262626"/>
<rect x="624" y="2672.9" width="2.2" height="17.5" fill="#9a9a9a"/>
<rect x="620.7" y="2672.9" width="3.4" height="17.5" fill="#262626"/>
<rect x="747" y="2672.9" width="2.2" height="17.5" fill="#9a9a9a"/>
<rect x="743.7" y="2672.9" width="3.4" height="17.5" fill="#262626"/>
<rect x="870" y="2672.9" width="2.2" height="17.5" fill="#9a9a9a"/>
<rect x="866.7" y="2672.9" width="3.4" height="17.5" fill="#262626"/>
<rect x="993" y="2672.9" width="2.2" height="17.5" fill="#9a9a9a"/>
<rect x="989.7" y="2672.9" width="3.4" height="17.5" fill="#262626"/>
</g>
<g class="lbl">
<text class="tk" font-size="38.8" x="29.4" y="1502.5" textLength="51.78" lengthAdjust="spacingAndGlyphs">9.4</text>
<text class="tk" font-size="38.8" x="29.4" y="1739.9" textLength="51.78" lengthAdjust="spacingAndGlyphs">7.5</text>
<text class="tk" font-size="38.8" x="30.36" y="1977.6" textLength="51.78" lengthAdjust="spacingAndGlyphs">5.6</text>
<text class="tk" font-size="38.8" x="29.88" y="2212" textLength="51.78" lengthAdjust="spacingAndGlyphs">3.8</text>
<text class="tk" font-size="38.8" x="29.88" y="2448.8" textLength="51.78" lengthAdjust="spacingAndGlyphs">1.9</text>
<text class="tk" font-size="38.8" x="29.88" y="2686" textLength="51.78" lengthAdjust="spacingAndGlyphs">0.0</text>
<text class="tk" font-size="38.8" x="218.12" y="2725.5" textLength="72.5" lengthAdjust="spacingAndGlyphs">0.50</text>
<text class="tk" font-size="38.8" x="341.12" y="2725.5" textLength="72.5" lengthAdjust="spacingAndGlyphs">1.00</text>
<text class="tk" font-size="38.8" x="464.12" y="2725.5" textLength="72.5" lengthAdjust="spacingAndGlyphs">1.50</text>
<text class="tk" font-size="38.8" x="587.6" y="2725.5" textLength="72.5" lengthAdjust="spacingAndGlyphs">2.00</text>
<text class="tk" font-size="38.8" x="710.6" y="2725.5" textLength="72.5" lengthAdjust="spacingAndGlyphs">2.50</text>
<text class="tk" font-size="38.8" x="833.6" y="2725.5" textLength="72.5" lengthAdjust="spacingAndGlyphs">3.00</text>
<text class="tk" font-size="38.8" x="956.6" y="2725.5" textLength="72.5" lengthAdjust="spacingAndGlyphs">3.50</text>
<text class="tk" font-size="38.8" y="2767.3"><tspan x="420.1" letter-spacing="0.05">Energy</tspan><tspan x="552.34"> - </tspan><tspan x="588.81" letter-spacing="2.35">keV</tspan></text>
<text class="kc" font-size="38.8" x="32.1" y="2082.8" letter-spacing="-1.3">KCnt</text>
</g>
<g class="ann">
<text class="pk" font-size="65" stroke-width="1.8" transform="matrix(0.8800 0 0 0.9681 607.98 2057.93)" letter-spacing="14.14">Au</text>
<text class="pk" font-size="65" stroke-width="1.8" transform="matrix(0.9300 0 0 0.9388 518.64 2558.86)" letter-spacing="7.89">Si</text>
<text class="pk" font-size="65" stroke-width="1.8" transform="matrix(0.9395 0 0 1.0043 188.02 1933.90)">C</text>
<text class="pk" font-size="65" stroke-width="1.8" transform="matrix(0.9235 0 0 0.9809 278.81 2379.52)">F</text>
<text class="pk" font-size="65" stroke-width="1.8" transform="matrix(0.8913 0 0 0.9979 229.92 2505.10)">O</text>
<text class="pk" font-size="65" stroke-width="1.8" transform="matrix(0.8872 0 0 0.9787 201.55 2603.52)">N</text>
<text class="pl" transform="matrix(0.9667 0 0 0.9382 933.63 1568.52)" x="0" y="0">c</text>
</g>
<rect x="29" y="2780" width="1018" height="3" fill="#c8c8c8"/>
<rect x="26" y="2783" width="1024" height="3" fill="#484848"/>
<rect x="26" y="1446.4" width="1024" height="3.1" fill="#000"/>
<rect x="26" y="1446.4" width="3.1" height="1337.6" fill="#000"/>
<rect x="1046.8" y="1446.4" width="3.2" height="1339.6" fill="#000"/>
</g>
<g id="panel-d">
<g class="spec">
<polygon fill="#fe0000" points="1237.8,2669 1237.8,2666.9 1240.9,2666.9 1240.9,2665.8 1244,2665.8 1244,2664.6 1247,2664.6 1247,2663.5 1250.1,2663.5 1250.1,2661.1 1253.2,2661.1 1253.2,2662.1 1256.3,2662.1 1256.3,2660 1259.3,2660 1259.3,2655.1 1262.4,2655.1 1262.4,2651 1265.5,2651 1265.5,2645.1 1268.6,2645.1 1268.6,2628.1 1271.6,2628.1 1271.6,2544.2 1274.7,2544.2 1274.7,2492 1277.8,2492 1277.8,2490 1277.8,2354 1283.5,2354 1283.5,1914.2 1286.3,1914.2 1286.3,1681.6 1289.5,1681.6 1289.5,1637.8 1290.6,1637.8 1290.6,1534.2 1293.6,1534.2 1293.6,1637.8 1297.6,1637.8 1297.6,1863.2 1300.8,1863.2 1300.8,2297 1304,2297 1304,2451 1308.3,2451 1308.3,2536 1308.3,2561.1 1311.4,2561.1 1311.4,2596.6 1314.5,2596.6 1314.5,2594 1317.6,2594 1317.6,2595.5 1320.7,2595.5 1320.7,2601.6 1323.8,2601.6 1323.8,2609.8 1326.9,2609.8 1326.9,2619.7 1330,2619.7 1330,2633.7 1333.1,2633.7 1333.1,2633.3 1336.2,2633.3 1336.2,2616.3 1339.3,2616.3 1339.3,2590.9 1342.4,2590.9 1342.4,2563.1 1345.5,2563.1 1345.5,2493.4 1348.6,2493.4 1348.6,2474.4 1351.7,2474.4 1351.7,2475.3 1354.8,2475.3 1354.8,2502.5 1357.9,2502.5 1357.9,2530.7 1361,2530.7 1361,2554 1364.1,2554 1364.1,2620.5 1367.2,2620.5 1367.2,2628.1 1370.3,2628.1 1370.3,2626.5 1373.4,2626.5 1373.4,2612.2 1376.5,2612.2 1376.5,2540.6 1379.7,2540.6 1379.7,2483.5 1382.8,2483.5 1382.8,2384.2 1385.9,2384.2 1385.9,2329.6 1389,2329.6 1389,2328.2 1392.1,2328.2 1392.1,2328 1395.2,2328 1395.2,2369.4 1398.3,2369.4 1398.3,2457.3 1401.4,2457.3 1401.4,2498 1404.5,2498 1404.5,2599.8 1407.6,2599.8 1407.6,2621.3 1410.7,2621.3 1410.7,2639.6 1413.8,2639.6 1413.8,2649.4 1416.9,2649.4 1416.9,2650.1 1420,2650.1 1420,2651.1 1423.1,2651.1 1423.1,2653.1 1426.2,2653.1 1426.2,2651.4 1429.3,2651.4 1429.3,2652.2 1432.4,2652.2 1432.4,2652.8 1435.5,2652.8 1435.5,2649.5 1438.6,2649.5 1438.6,2644.2 1441.7,2644.2 1441.7,2646 1444.8,2646 1444.8,2643.8 1447.9,2643.8 1447.9,2646 1451,2646 1451,2644.2 1454.1,2644.2 1454.1,2645.4 1457.2,2645.4 1457.2,2644 1460.3,2644 1460.3,2643.9 1463.4,2643.9 1463.4,2644.3 1466.5,2644.3 1466.5,2641.8 1469.6,2641.8 1469.6,2641.4 1472.7,2641.4 1472.7,2641.2 1475.8,2641.2 1475.8,2638.8 1478.9,2638.8 1478.9,2639.5 1482,2639.5 1482,2638.5 1485.1,2638.5 1485.1,2638.7 1488.2,2638.7 1488.2,2637.8 1491.3,2637.8 1491.3,2636 1494.4,2636 1494.4,2633.1 1497.5,2633.1 1497.5,2633.1 1500.6,2633.1 1500.6,2631.4 1503.7,2631.4 1503.7,2633.2 1506.8,2633.2 1506.8,2631 1509.9,2631 1509.9,2631.5 1513,2631.5 1513,2632.9 1516.1,2632.9 1516.1,2633 1519.2,2633 1519.2,2629.5 1522.4,2629.5 1522.4,2630.3 1525.5,2630.3 1525.5,2631.7 1528.6,2631.7 1528.6,2630.1 1531.7,2630.1 1531.7,2629.8 1534.8,2629.8 1534.8,2630.1 1537.9,2630.1 1537.9,2629.2 1541,2629.2 1541,2630 1544.1,2630 1544.1,2630.4 1547.2,2630.4 1547.2,2627.8 1550.3,2627.8 1550.3,2626.7 1553.4,2626.7 1553.4,2629.9 1556.5,2629.9 1556.5,2627.9 1559.6,2627.9 1559.6,2629.1 1562.7,2629.1 1562.7,2629.4 1565.8,2629.4 1565.8,2629.3 1568.9,2629.3 1568.9,2629.8 1572,2629.8 1572,2628.3 1575.1,2628.3 1575.1,2629.1 1578.2,2629.1 1578.2,2629.7 1581.3,2629.7 1581.3,2629 1584.4,2629 1584.4,2630.1 1587.5,2630.1 1587.5,2631 1590.6,2631 1590.6,2628.1 1593.7,2628.1 1593.7,2623.6 1596.8,2623.6 1596.8,2625.3 1599.9,2625.3 1599.9,2627.5 1603,2627.5 1603,2623 1606.1,2623 1606.1,2624.7 1609.2,2624.7 1609.2,2625.7 1612.3,2625.7 1612.3,2626.2 1615.4,2626.2 1615.4,2623.5 1618.5,2623.5 1618.5,2620.6 1621.6,2620.6 1621.6,2617.4 1624.7,2617.4 1624.7,2616.4 1627.8,2616.4 1627.8,2611.4 1630.9,2611.4 1630.9,2608.5 1634,2608.5 1634,2607.8 1637.1,2607.8 1637.1,2607.3 1640.2,2607.3 1640.2,2609.7 1643.3,2609.7 1643.3,2608 1646.4,2608 1646.4,2613.7 1649.5,2613.7 1649.5,2612.3 1652.6,2612.3 1652.6,2608.9 1655.7,2608.9 1655.7,2613.9 1658.8,2613.9 1658.8,2617.8 1662,2617.8 1662,2623.3 1665.1,2623.3 1665.1,2626.8 1668.2,2626.8 1668.2,2625.8 1671.3,2625.8 1671.3,2622.7 1674.4,2622.7 1674.4,2625.4 1677.5,2625.4 1677.5,2626.5 1680.6,2626.5 1680.6,2627.5 1683.7,2627.5 1683.7,2626.8 1686.8,2626.8 1686.8,2627.9 1689.9,2627.9 1689.9,2620.6 1693,2620.6 1693,2623.7 1696.1,2623.7 1696.1,2622.8 1699.2,2622.8 1699.2,2625.6 1702.3,2625.6 1702.3,2628.4 1705.4,2628.4 1705.4,2627.4 1708.5,2627.4 1708.5,2625.2 1711.6,2625.2 1711.6,2626.9 1714.7,2626.9 1714.7,2621 1717.8,2621 1717.8,2612.5 1720.9,2612.5 1720.9,2601.7 1724,2601.7 1724,2587.9 1727.1,2587.9 1727.1,2581.4 1730.2,2581.4 1730.2,2579 1730.2,2527.8 1733.4,2527.8 1733.4,2478.7 1736.6,2478.7 1736.6,2382.5 1739.8,2382.5 1739.8,2342 1743,2342 1743,2322.7 1746.3,2322.7 1746.3,2318.5 1747.6,2318.5 1747.6,2290.7 1750.5,2290.7 1750.5,2318.5 1754.8,2320.6 1754.8,2327 1758,2327 1758,2344 1761.2,2344 1761.2,2378.3 1764.4,2378.3 1764.4,2393.2 1767.6,2393.2 1767.6,2455.2 1770.8,2455.2 1770.8,2483 1774,2483 1774,2517 1778.3,2517 1778.3,2568.4 1781.5,2568.4 1781.5,2594 1781.5,2600.1 1784.6,2600.1 1784.6,2612 1787.7,2612 1787.7,2620.7 1790.8,2620.7 1790.8,2629 1793.9,2629 1793.9,2630.4 1797,2630.4 1797,2628.2 1800.1,2628.2 1800.1,2630.7 1803.2,2630.7 1803.2,2629.2 1806.3,2629.2 1806.3,2624.7 1809.4,2624.7 1809.4,2623.4 1812.5,2623.4 1812.5,2616.6 1815.6,2616.6 1815.6,2622.4 1818.7,2622.4 1818.7,2626.4 1821.8,2626.4 1821.8,2624.7 1824.9,2624.7 1824.9,2627.3 1828,2627.3 1828,2631.9 1831.1,2631.9 1831.1,2635 1834.2,2635 1834.2,2638.3 1837.3,2638.3 1837.3,2635.8 1840.4,2635.8 1840.4,2639.3 1843.5,2639.3 1843.5,2636 1846.6,2636 1846.6,2637.4 1849.7,2637.4 1849.7,2637 1852.8,2637 1852.8,2640.1 1855.9,2640.1 1855.9,2637.4 1859,2637.4 1859,2638.6 1862.1,2638.6 1862.1,2638 1865.2,2638 1865.2,2634.4 1868.3,2634.4 1868.3,2637.7 1871.4,2637.7 1871.4,2639.6 1874.4,2639.6 1874.4,2637.9 1877.5,2637.9 1877.5,2638.9 1880.6,2638.9 1880.6,2640.2 1883.7,2640.2 1883.7,2636.9 1886.8,2636.9 1886.8,2638 1889.9,2638 1889.9,2637.5 1893,2637.5 1893,2637.7 1896.1,2637.7 1896.1,2638.1 1899.2,2638.1 1899.2,2637.1 1902.3,2637.1 1902.3,2637 1905.4,2637 1905.4,2636.2 1908.5,2636.2 1908.5,2637.7 1911.6,2637.7 1911.6,2634.6 1914.7,2634.6 1914.7,2638.6 1917.8,2638.6 1917.8,2636.9 1920.9,2636.9 1920.9,2637.3 1924,2637.3 1924,2637.3 1927.1,2637.3 1927.1,2637.2 1930.2,2637.2 1930.2,2636.9 1933.3,2636.9 1933.3,2640 1936.4,2640 1936.4,2645.6 1939.5,2645.6 1939.5,2643.1 1942.6,2643.1 1942.6,2642.4 1945.7,2642.4 1945.7,2643.1 1948.8,2643.1 1948.8,2641.8 1951.9,2641.8 1951.9,2641.6 1955,2641.6 1955,2642.6 1958.1,2642.6 1958.1,2642.4 1961.2,2642.4 1961.2,2640.3 1964.3,2640.3 1964.3,2639.4 1967.4,2639.4 1967.4,2636.2 1970.5,2636.2 1970.5,2641.2 1973.6,2641.2 1973.6,2638.7 1976.7,2638.7 1976.7,2638.9 1979.8,2638.9 1979.8,2640.4 1982.9,2640.4 1982.9,2641.4 1986,2641.4 1986,2642 1989.1,2642 1989.1,2642.9 1992.2,2642.9 1992.2,2640.7 1995.3,2640.7 1995.3,2636.8 1998.4,2636.8 1998.4,2641.6 2001.5,2641.6 2001.5,2640.4 2004.6,2640.4 2004.6,2637.7 2007.7,2637.7 2007.7,2638.9 2010.8,2638.9 2010.8,2638.7 2013.9,2638.7 2013.9,2640.9 2017,2640.9 2017,2639.6 2020.1,2639.6 2020.1,2643.9 2023.2,2643.9 2023.2,2642.4 2026.3,2642.4 2026.3,2644.5 2029.4,2644.5 2029.4,2644 2032.5,2644 2032.5,2644.5 2035.6,2644.5 2035.6,2643.8 2038.7,2643.8 2038.7,2645.3 2041.8,2645.3 2041.8,2643.8 2044.9,2643.8 2044.9,2644.5 2048,2644.5 2048,2644.1 2051.1,2644.1 2051.1,2642.6 2054.1,2642.6 2054.1,2643.2 2057.2,2643.2 2057.2,2642.5 2060.3,2642.5 2060.3,2643 2063.4,2643 2063.4,2643.2 2066.5,2643.2 2066.5,2643 2069.6,2643 2069.6,2643.6 2072.7,2643.6 2072.7,2642 2075.8,2642 2075.8,2642.8 2078.9,2642.8 2078.9,2646 2082,2646 2082,2646.7 2085.1,2646.7 2085.1,2646.8 2088.2,2646.8 2088.2,2645.3 2091.3,2645.3 2091.3,2645.3 2094.4,2645.3 2094.4,2646.1 2097.5,2646.1 2097.5,2645.3 2100.6,2645.3 2100.6,2645.9 2103.7,2645.9 2103.7,2645.2 2106.8,2645.2 2106.8,2643 2109.9,2643 2109.9,2642.6 2113,2642.6 2113,2641.9 2116.1,2641.9 2116.1,2644.1 2119.2,2644.1 2119.2,2643.3 2122.3,2643.3 2122.3,2643.5 2125.4,2643.5 2125.4,2644.1 2128.5,2644.1 2128.5,2644.9 2131.6,2644.9 2131.6,2642.7 2134.7,2642.7 2134.7,2645.3 2137.8,2645.3 2137.8,2643.1 2140.9,2643.1 2140.9,2644.4 2144,2644.4 2144,2669"/>
</g>
<g class="axes">
<rect x="1197.5" y="2672.7" width="946.5" height="1.7" fill="#dcdcdc"/>
<rect x="1197.5" y="2668.5" width="946.5" height="4.7" fill="#000"/>
<rect x="1247.8" y="2665.3" width="896.2" height="3.4" fill="url(#dk)"/>
<rect x="1217.6" y="1483.1" width="2.1" height="1185.4" fill="#8a8a8a"/>
<rect x="1219.2" y="1483.1" width="3.6" height="1190.1" fill="#0c0c0c"/>
<rect x="1197.5" y="1483.1" width="22.7" height="3.6" fill="#141414"/>
<rect x="1197.5" y="1721.5" width="22.7" height="3.6" fill="#141414"/>
<rect x="1197.5" y="1956.2" width="22.7" height="3.6" fill="#141414"/>
<rect x="1197.5" y="2196.2" width="22.7" height="3.6" fill="#141414"/>
<rect x="1197.5" y="2434.8" width="22.7" height="3.6" fill="#141414"/>
<rect x="1348.8" y="2673.2" width="2.2" height="17.8" fill="#9a9a9a"/>
<rect x="1345.5" y="2673.2" width="3.4" height="17.8" fill="#262626"/>
<rect x="1472.7" y="2673.2" width="2.2" height="17.8" fill="#9a9a9a"/>
<rect x="1469.4" y="2673.2" width="3.4" height="17.8" fill="#262626"/>
<rect x="1596.7" y="2673.2" width="2.2" height="17.8" fill="#9a9a9a"/>
<rect x="1593.3" y="2673.2" width="3.4" height="17.8" fill="#262626"/>
<rect x="1720.6" y="2673.2" width="2.2" height="17.8" fill="#9a9a9a"/>
<rect x="1717.3" y="2673.2" width="3.4" height="17.8" fill="#262626"/>
<rect x="1844.6" y="2673.2" width="2.2" height="17.8" fill="#9a9a9a"/>
<rect x="1841.2" y="2673.2" width="3.4" height="17.8" fill="#262626"/>
<rect x="1968.5" y="2673.2" width="2.2" height="17.8" fill="#9a9a9a"/>
<rect x="1965.2" y="2673.2" width="3.4" height="17.8" fill="#262626"/>
<rect x="2092.5" y="2673.2" width="2.2" height="17.8" fill="#9a9a9a"/>
<rect x="2089.2" y="2673.2" width="3.4" height="17.8" fill="#262626"/>
</g>
<g class="lbl">
<text class="tk" font-size="38.8" x="1120.05" y="1496.5" textLength="51.78" lengthAdjust="spacingAndGlyphs">9.4</text>
<text class="tk" font-size="38.8" x="1120.05" y="1735.2" textLength="51.78" lengthAdjust="spacingAndGlyphs">7.5</text>
<text class="tk" font-size="38.8" x="1121.01" y="1974.6" textLength="51.78" lengthAdjust="spacingAndGlyphs">5.6</text>
<text class="tk" font-size="38.8" x="1120.53" y="2210.2" textLength="51.78" lengthAdjust="spacingAndGlyphs">3.8</text>
<text class="tk" font-size="38.8" x="1120.53" y="2448.5" textLength="51.78" lengthAdjust="spacingAndGlyphs">1.9</text>
<text class="tk" font-size="38.8" x="1120.53" y="2687.3" textLength="51.78" lengthAdjust="spacingAndGlyphs">0.0</text>
<text class="tk" font-size="38.8" x="1311.87" y="2726.5" textLength="72.5" lengthAdjust="spacingAndGlyphs">0.50</text>
<text class="tk" font-size="38.8" x="1435.82" y="2726.5" textLength="72.5" lengthAdjust="spacingAndGlyphs">1.00</text>
<text class="tk" font-size="38.8" x="1559.77" y="2726.5" textLength="72.5" lengthAdjust="spacingAndGlyphs">1.50</text>
<text class="tk" font-size="38.8" x="1684.2" y="2726.5" textLength="72.5" lengthAdjust="spacingAndGlyphs">2.00</text>
<text class="tk" font-size="38.8" x="1808.15" y="2726.5" textLength="72.5" lengthAdjust="spacingAndGlyphs">2.50</text>
<text class="tk" font-size="38.8" x="1932.1" y="2726.5" textLength="72.5" lengthAdjust="spacingAndGlyphs">3.00</text>
<text class="tk" font-size="38.8" x="2056.05" y="2726.5" textLength="72.5" lengthAdjust="spacingAndGlyphs">3.50</text>
<text class="tk" font-size="38.8" y="2768"><tspan x="1514.9" letter-spacing="0.16">Energy</tspan><tspan x="1647.79"> - </tspan><tspan x="1684.39" letter-spacing="2.51">keV</tspan></text>
<text class="kc" font-size="38.8" x="1121.2" y="2081" letter-spacing="0.1">KCnt</text>
</g>
<g class="ann">
<text class="pk" font-size="77" stroke-width="2.4" transform="matrix(0.9057 0 0 0.9825 1714.91 2249.44)" letter-spacing="12.79">Au</text>
<text class="pk" font-size="77" stroke-width="2.4" transform="matrix(0.9118 0 0 0.9737 1284.26 1616.45)">C</text>
<text class="pk" font-size="77" stroke-width="2.4" transform="matrix(0.9000 0 0 0.9464 1377.20 2301.75)">F</text>
<text class="pk" font-size="77" stroke-width="2.4" transform="matrix(0.9327 0 0 0.9754 1317.63 2440.35)">O</text>
<text class="pk" font-size="77" stroke-width="2.4" transform="matrix(0.9087 0 0 0.9750 1284.96 2588.73)">N</text>
<text class="pl" transform="matrix(0.9500 0 0 0.9341 2024.70 1562.70)" x="0" y="0">d</text>
</g>
<rect x="1121.7" y="2781" width="1022.3" height="3" fill="#c8c8c8"/>
<rect x="1118.7" y="2784" width="1028.3" height="3" fill="#484848"/>
<rect x="1118.7" y="1441" width="1028.3" height="3.1" fill="#000"/>
<rect x="1118.7" y="1441" width="3.1" height="1344" fill="#000"/>
<rect x="2143.8" y="1441" width="3.2" height="1346" fill="#000"/>
</g>
</svg>
</body>
</html>
